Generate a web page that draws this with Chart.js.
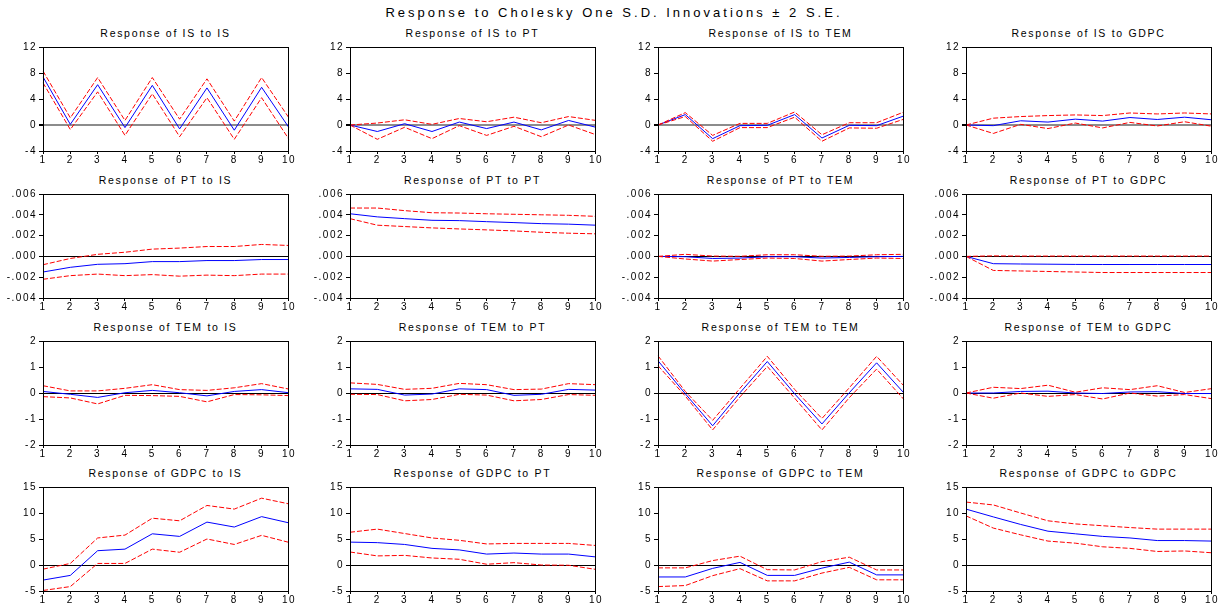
<!DOCTYPE html>
<html>
<head>
<meta charset="utf-8">
<script src="https://cdn.jsdelivr.net/npm/chart.js@4/dist/chart.umd.min.js"></script>
<style>
  body { margin: 0; background: #fff; width: 1220px; height: 608px; position: relative; overflow: hidden;
         font-family: "Liberation Sans", Arial, sans-serif; }
  #title { position: absolute; top: 5px; left: 4px; width: 1220px; text-align: center;
           font-size: 13px; line-height: 15px; letter-spacing: 3px; color: #000; }
  .box { position: absolute; }
  .ptitle { position: absolute; width: 245px; text-align: center; font-size: 10.5px; line-height: 12px;
            letter-spacing: 1.7px; color: #000; white-space: nowrap; }
</style>
</head>
<body>
<div id="title">Response to Cholesky One S.D. Innovations ± 2 S.E.</div>
<script>
// Periods
const periods = ["1", "2", "3", "4", "5", "6", "7", "8", "9", "10"];
const shocks = ["IS", "PT", "TEM", "GDPC"];

// Response of IS
const isIsMid = [7.4, 0.1, 6.2, -0.4, 6.1, -0.6, 5.7, -0.8, 5.8, -0.4];
const isIsUp  = [8.3, 1.1, 7.3, 0.7, 7.3, 0.9, 7.1, 0.6, 7.3, 1.1];
const isIsLo  = [6.5, -0.7, 5.1, -1.6, 4.8, -1.8, 4.2, -2.2, 4.2, -2.2];
const isPtMid = [0, -1.0, 0.2, -1.0, 0.45, -0.55, 0.45, -0.75, 0.7, -0.35];
const isPtUp  = [0, 0.3, 0.8, 0.1, 1.0, 0.5, 1.2, 0.35, 1.3, 0.7];
const isPtLo  = [0, -2.2, -0.35, -2.1, -0.1, -1.6, -0.2, -1.8, 0, -1.5];
const isTemMid = [0, 1.6, -2.1, -0.1, -0.05, 1.6, -2.0, -0.05, -0.1, 1.4];
const isTemUp  = [0, 1.9, -1.6, 0.25, 0.25, 2.0, -1.5, 0.35, 0.35, 2.0];
const isTemLo  = [0, 1.3, -2.5, -0.4, -0.4, 1.2, -2.5, -0.45, -0.5, 0.9];
const isGdpcMid = [0, -0.1, 0.65, 0.45, 0.9, 0.6, 1.15, 0.85, 1.2, 0.8];
const isGdpcUp  = [0, 1.05, 1.3, 1.45, 1.55, 1.45, 1.85, 1.7, 1.85, 1.7];
const isGdpcLo  = [0, -1.3, 0.1, -0.55, 0.3, -0.45, 0.4, -0.15, 0.5, -0.2];

// Response of PT
const ptIsMid = [-0.0015, -0.00105, -0.00076, -0.0007, -0.0005, -0.0005, -0.0004, -0.0004, -0.0003, -0.0003];
const ptIsUp  = [-0.0008, -0.0002, 0.0002, 0.0004, 0.0007, 0.0008, 0.00095, 0.00095, 0.00115, 0.00105];
const ptIsLo  = [-0.0022, -0.00185, -0.0017, -0.00185, -0.00175, -0.0019, -0.0018, -0.00185, -0.0017, -0.0017];
const ptPtMid = [0.0041, 0.0038, 0.00363, 0.00347, 0.00344, 0.00334, 0.00325, 0.00315, 0.0031, 0.003];
const ptPtUp  = [0.00465, 0.00465, 0.0044, 0.0042, 0.00417, 0.0041, 0.00405, 0.004, 0.00395, 0.00385];
const ptPtLo  = [0.00363, 0.003, 0.00287, 0.00274, 0.00264, 0.00255, 0.00245, 0.00232, 0.00223, 0.00217];
const ptTemMid = [0, -0.00003, -0.0002, -0.00016, -0.00003, -0.00003, -0.00016, -0.0001, -0.00003, 0];
const ptTemUp  = [0, 0.0002, 0.00003, 0.00001, 0.00016, 0.00016, 0.00001, 0.00003, 0.00016, 0.0002];
const ptTemLo  = [0, -0.00025, -0.00045, -0.0003, -0.00016, -0.0002, -0.00045, -0.0003, -0.00016, -0.0002];
const ptGdpcMid = [0, -0.0007, -0.00073, -0.00075, -0.00077, -0.00078, -0.00078, -0.00078, -0.00078, -0.00078];
const ptGdpcUp  = [0, 0.00005, 0.00003, 0.00003, 0.00003, 0.00003, 0.00003, 0.00003, 0.00003, 0.00003];
const ptGdpcLo  = [0, -0.00135, -0.0014, -0.00145, -0.0015, -0.00155, -0.00155, -0.00155, -0.00155, -0.00155];

// Response of TEM
const temIsMid = [0.06, -0.05, -0.17, 0.01, 0.1, 0.01, -0.11, 0.06, 0.13, 0.01];
const temIsUp  = [0.28, 0.08, 0.08, 0.18, 0.32, 0.13, 0.1, 0.2, 0.36, 0.15];
const temIsLo  = [-0.14, -0.19, -0.42, -0.09, -0.1, -0.13, -0.34, -0.06, -0.07, -0.1];
const temPtMid = [0.16, 0.14, -0.08, -0.04, 0.16, 0.13, -0.09, -0.05, 0.14, 0.11];
const temPtUp  = [0.39, 0.33, 0.14, 0.18, 0.37, 0.32, 0.13, 0.15, 0.36, 0.32];
const temPtLo  = [-0.05, -0.06, -0.3, -0.25, -0.05, -0.08, -0.3, -0.25, -0.06, -0.09];
const temTemMid = [1.24, -0.03, -1.26, 0.01, 1.21, -0.03, -1.19, 0.01, 1.16, 0];
const temTemUp  = [1.43, 0.06, -1.05, 0.18, 1.41, 0.14, -0.98, 0.2, 1.41, 0.27];
const temTemLo  = [1.05, -0.12, -1.42, -0.15, 1.02, -0.2, -1.42, -0.18, 0.92, -0.25];
const temGdpcMid = [0, 0, 0.06, 0.07, 0, -0.02, 0.04, 0.05, -0.02, -0.02];
const temGdpcUp  = [0, 0.22, 0.17, 0.3, 0.03, 0.2, 0.13, 0.28, 0.02, 0.17];
const temGdpcLo  = [0, -0.2, 0, -0.13, -0.06, -0.23, 0, -0.12, -0.06, -0.22];

// Response of GDPC
const gdpcIsMid = [-2.9, -2.0, 2.75, 3.05, 6.0, 5.5, 8.25, 7.3, 9.3, 8.1];
const gdpcIsUp  = [-0.8, 0.3, 5.2, 5.75, 9.0, 8.5, 11.45, 10.75, 12.85, 11.75];
const gdpcIsLo  = [-4.9, -4.15, 0.3, 0.3, 3.05, 2.45, 5.0, 3.95, 5.7, 4.35];
const gdpcPtMid = [4.4, 4.3, 3.95, 3.2, 2.9, 2.1, 2.3, 2.1, 2.1, 1.55];
const gdpcPtUp  = [6.3, 6.9, 6.05, 5.2, 4.75, 4.05, 4.15, 4.15, 4.15, 3.75];
const gdpcPtLo  = [2.5, 1.75, 1.85, 1.35, 1.1, 0.15, 0.45, 0, -0.05, -0.85];
const gdpcTemMid = [-2.3, -2.3, -0.65, 0.5, -2.0, -2.0, -0.6, 0.55, -1.9, -1.9];
const gdpcTemUp  = [-0.55, -0.55, 0.85, 1.7, -0.9, -0.95, 0.65, 1.5, -0.95, -0.95];
const gdpcTemLo  = [-4.15, -3.95, -2.05, -0.7, -3.05, -3.05, -1.55, -0.45, -2.85, -2.85];
const gdpcGdpcMid = [10.75, 9.25, 7.8, 6.5, 6.0, 5.5, 5.2, 4.7, 4.7, 4.6];
const gdpcGdpcUp  = [12.1, 11.55, 10.0, 8.5, 7.9, 7.55, 7.2, 6.9, 6.9, 6.9];
const gdpcGdpcLo  = [9.45, 7.1, 5.8, 4.6, 4.2, 3.5, 3.2, 2.6, 2.7, 2.35];

// y axis per responding variable (row)
const yMin = [-4, -0.004, -2, -5];
const yMax = [12, 0.006, 2, 15];
const yStep = [4, 0.002, 1, 5];

const panels = [
  [[isIsMid, isIsUp, isIsLo], [isPtMid, isPtUp, isPtLo], [isTemMid, isTemUp, isTemLo], [isGdpcMid, isGdpcUp, isGdpcLo]],
  [[ptIsMid, ptIsUp, ptIsLo], [ptPtMid, ptPtUp, ptPtLo], [ptTemMid, ptTemUp, ptTemLo], [ptGdpcMid, ptGdpcUp, ptGdpcLo]],
  [[temIsMid, temIsUp, temIsLo], [temPtMid, temPtUp, temPtLo], [temTemMid, temTemUp, temTemLo], [temGdpcMid, temGdpcUp, temGdpcLo]],
  [[gdpcIsMid, gdpcIsUp, gdpcIsLo], [gdpcPtMid, gdpcPtUp, gdpcPtLo], [gdpcTemMid, gdpcTemUp, gdpcTemLo], [gdpcGdpcMid, gdpcGdpcUp, gdpcGdpcLo]]
];

// layout of the grid
const plotLeft = [43, 350, 658, 966];
const plotTop = [47, 194, 341, 487];
const axisW = 40;

const spacing = {
  id: "spacing",
  beforeUpdate(c) { c.ctx.letterSpacing = "1.5px"; },
  beforeDraw(c) { c.ctx.letterSpacing = "1.5px"; }
};

const frame = {
  id: "frame",
  afterDraw(c) {
    const a = c.chartArea, ctx = c.ctx;
    ctx.save();
    ctx.strokeStyle = "#000";
    ctx.lineWidth = 1;
    ctx.strokeRect(Math.round(a.left) + 0.5, Math.round(a.top) + 0.5,
                   Math.round(a.right - a.left) - 1, Math.round(a.bottom - a.top));
    ctx.restore();
  }
};

function fmtTick(row, v) {
  if (row === 1) {
    let s = Math.abs(v) < 1e-9 ? "0.000" : v.toFixed(3);
    return s.replace("0.", ".");
  }
  return String(v);
}

Chart.defaults.font.family = '"Liberation Sans", Arial, sans-serif';
Chart.defaults.color = "#000";

for (let r = 0; r < 4; r++) {
  for (let c = 0; c < 4; c++) {
    const [mid, up, lo] = panels[r][c];

    const t = document.createElement("div");
    t.className = "ptitle";
    t.style.left = plotLeft[c] + "px";
    t.style.top = (plotTop[r] - 20) + "px";
    t.textContent = "Response of " + shocks[r] + " to " + shocks[c];
    document.body.appendChild(t);

    const box = document.createElement("div");
    box.className = "box";
    box.style.left = (plotLeft[c] - axisW) + "px";
    box.style.top = (plotTop[r] - 8) + "px";
    const cv = document.createElement("canvas");
    cv.width = 293;
    cv.height = 127;
    box.appendChild(cv);
    document.body.appendChild(box);

    new Chart(cv, {
      type: "line",
      data: {
        labels: periods,
        datasets: [
          { data: up, borderColor: "#ff0000", borderWidth: 1, borderDash: [5, 2], pointRadius: 0, fill: false },
          { data: lo, borderColor: "#ff0000", borderWidth: 1, borderDash: [5, 2], pointRadius: 0, fill: false },
          { data: mid, borderColor: "#0000ff", borderWidth: 1, pointRadius: 0, fill: false }
        ]
      },
      options: {
        responsive: false,
        animation: false,
        layout: { padding: { top: 8, left: 0, right: 0, bottom: 0 } },
        plugins: {
          legend: { display: false },
          tooltip: { enabled: false },
          title: { display: false }
        },
        scales: {
          x: {
            offset: false,
            border: { display: false },
            grid: { drawOnChartArea: false, drawTicks: true, tickLength: 3, tickColor: "#000" },
            ticks: { font: { size: 10 }, padding: 0, maxRotation: 0, autoSkip: false }
          },
          y: {
            min: yMin[r],
            max: yMax[r],
            border: { display: false },
            afterFit(s) { s.width = axisW; },
            grid: {
              drawTicks: true,
              tickLength: 4,
              tickColor: "#000",
              color: ctx => Math.abs(ctx.tick.value) < 1e-9 ? (r === 0 ? "#8c8c8c" : "#000") : "rgba(0,0,0,0)",
              lineWidth: ctx => Math.abs(ctx.tick.value) < 1e-9 && r === 0 ? 2 : 1
            },
            ticks: {
              stepSize: yStep[r],
              font: { size: 10 },
              padding: 2,
              callback: v => fmtTick(r, v)
            }
          }
        }
      },
      plugins: [spacing, frame]
    });
  }
}
</script>
</body>
</html>
